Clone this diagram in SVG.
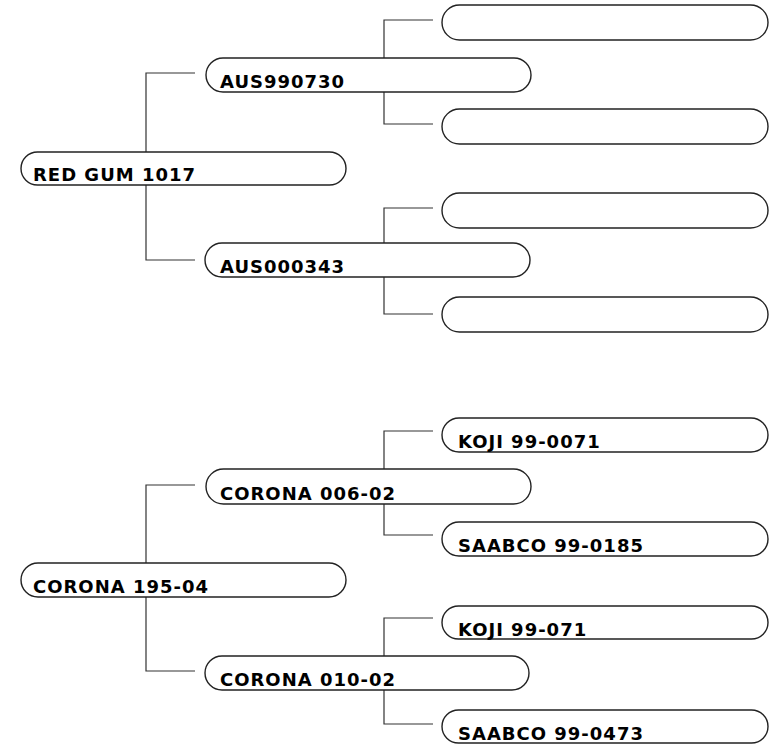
<svg xmlns="http://www.w3.org/2000/svg" width="781" height="746" viewBox="0 0 781 746">
<style>
.n{fill:#fff;stroke:#222;stroke-width:1.4}
.t{font-family:"DejaVu Sans",Verdana,sans-serif;font-weight:bold;font-size:18px;letter-spacing:1px;fill:#000}
.c{fill:none;stroke:#333;stroke-width:1.2}
</style>
<rect width="781" height="746" fill="#fff"/>
<g id="connectors">
<path class="c" d="M195 73H146V152M146 185V260H195"/>
<path class="c" d="M433 20H384V58M384 92V124H433"/>
<path class="c" d="M433 208H384V243M384 277V314H433"/>
<path class="c" d="M195 485H146V563M146 597V671H195"/>
<path class="c" d="M433 431H384V469M384 504V535H433"/>
<path class="c" d="M433 618H384V656M384 690V724H433"/>
</g>
<g id="red-gum"><rect class="n" x="21" y="152" width="325" height="33" rx="16.5"/><text class="t" x="33" y="181">RED GUM 1017</text></g>
<g id="aus990730"><rect class="n" x="206" y="58" width="325" height="34" rx="17"/><text class="t" x="220" y="88">AUS990730</text></g>
<g id="aus000343"><rect class="n" x="205" y="243" width="325" height="34" rx="17"/><text class="t" x="220" y="273">AUS000343</text></g>
<g id="blank1"><rect class="n" x="442" y="5" width="326" height="35" rx="17.5"/></g>
<g id="blank2"><rect class="n" x="442" y="109" width="326" height="35" rx="17.5"/></g>
<g id="blank3"><rect class="n" x="442" y="193" width="326" height="35" rx="17.5"/></g>
<g id="blank4"><rect class="n" x="442" y="297" width="326" height="35" rx="17.5"/></g>
<g id="corona-195"><rect class="n" x="21" y="563" width="325" height="34" rx="17"/><text class="t" x="33" y="593">CORONA 195-04</text></g>
<g id="corona-006"><rect class="n" x="206" y="469" width="325" height="35" rx="17.5"/><text class="t" x="220" y="500">CORONA 006-02</text></g>
<g id="corona-010"><rect class="n" x="205" y="656" width="324" height="34" rx="17"/><text class="t" x="220" y="686">CORONA 010-02</text></g>
<g id="koji-0071"><rect class="n" x="442" y="418" width="326" height="34" rx="17"/><text class="t" x="458" y="448">KOJI 99-0071</text></g>
<g id="saabco-0185"><rect class="n" x="442" y="522" width="326" height="34" rx="17"/><text class="t" x="458" y="552">SAABCO 99-0185</text></g>
<g id="koji-071"><rect class="n" x="442" y="606" width="326" height="33" rx="16.5"/><text class="t" x="458" y="636">KOJI 99-071</text></g>
<g id="saabco-0473"><rect class="n" x="442" y="710" width="326" height="33" rx="16.5"/><text class="t" x="458" y="740">SAABCO 99-0473</text></g>
</svg>
